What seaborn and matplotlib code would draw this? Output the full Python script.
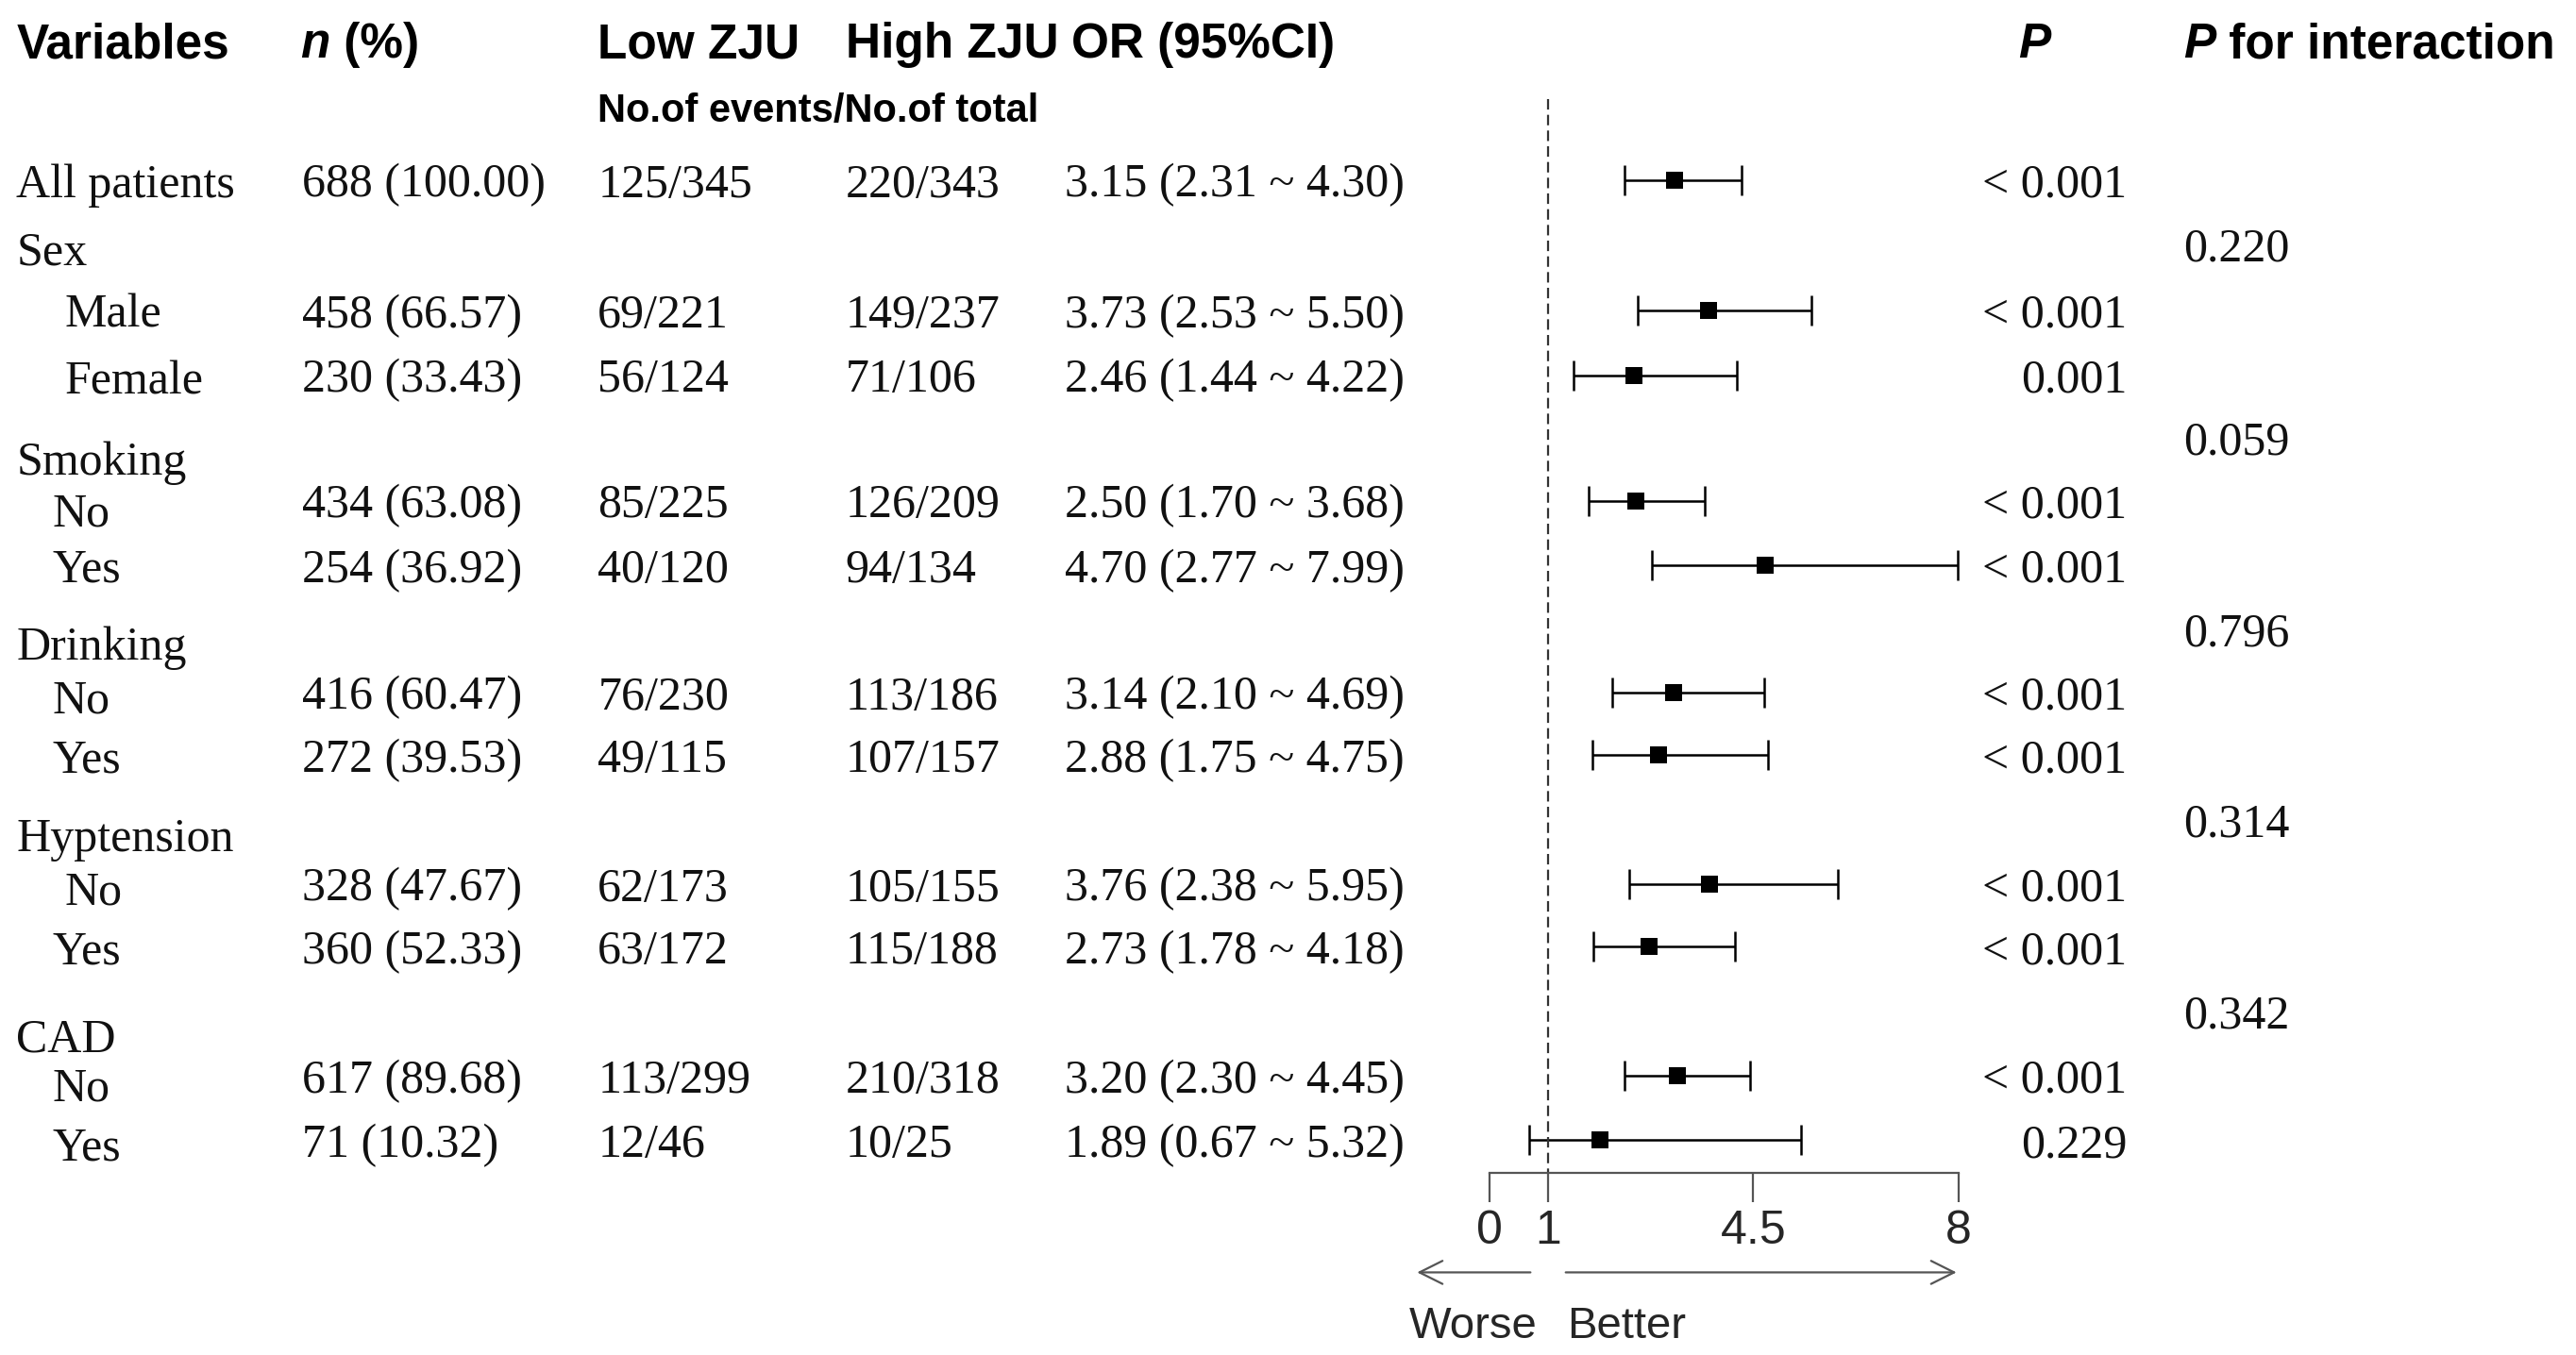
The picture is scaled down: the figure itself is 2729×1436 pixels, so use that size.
import numpy as np
import pandas as pd
import matplotlib
matplotlib.use('Agg')
import matplotlib.pyplot as plt
import seaborn as sns

# table values
labels = ['All patients', 'Male', 'Female', 'No', 'Yes', 'No', 'Yes', 'No', 'Yes', 'No', 'Yes']
n_pct = ['688 (100.00)', '458 (66.57)', '230 (33.43)', '434 (63.08)', '254 (36.92)',
         '416 (60.47)', '272 (39.53)', '328 (47.67)', '360 (52.33)', '617 (89.68)', '71 (10.32)']
low_zju = ['125/345', '69/221', '56/124', '85/225', '40/120', '76/230',
           '49/115', '62/173', '63/172', '113/299', '12/46']
high_zju = ['220/343', '149/237', '71/106', '126/209', '94/134', '113/186',
            '107/157', '105/155', '115/188', '210/318', '10/25']
odds = [3.15, 3.73, 2.46, 2.50, 4.70, 3.14, 2.88, 3.76, 2.73, 3.20, 1.89]
ci_low = [2.31, 2.53, 1.44, 1.70, 2.77, 2.10, 1.75, 2.38, 1.78, 2.30, 0.67]
ci_high = [4.30, 5.50, 4.22, 3.68, 7.99, 4.69, 4.75, 5.95, 4.18, 4.45, 5.32]
p_vals = ['< 0.001', '< 0.001', '0.001', '< 0.001', '< 0.001', '< 0.001',
          '< 0.001', '< 0.001', '< 0.001', '< 0.001', '0.229']

groups = ['Sex', 'Smoking', 'Drinking', 'Hyptension', 'CAD']
p_interaction = ['0.220', '0.059', '0.796', '0.314', '0.342']

xticks = [0, 1, 4.5, 8]
xtick_labels = ['0', '1', '4.5', '8']

# layout (page units, 1560 x 820, y down)
row_y = [109, 188, 227, 303, 342, 419, 457, 535, 573, 651, 690]
label_y = [109, 188, 228, 308, 342, 421, 457, 537, 573, 656, 692]
label_x = [10, 39, 39, 32, 32, 32, 32, 39, 32, 32, 32]
group_y = [150, 277, 389, 505, 626]
pint_y = [148, 265, 381, 496, 612]

df = pd.DataFrame({'label': labels, 'OR': odds, 'lo': ci_low, 'hi': ci_high, 'y': row_y})

sns.set_style('white')
plt.rcParams['font.family'] = ['Liberation Serif', 'DejaVu Sans']

fig = plt.figure(figsize=(13.645, 7.18), dpi=200)
ax = fig.add_axes([0, 0, 1, 1])
ax.set_xlim(0, 1560)
ax.set_ylim(820, 0)
ax.axis('off')

head = dict(family='Liberation Sans', fontweight='bold', fontsize=18.5, color='black', va='center_baseline')
body = dict(family='Liberation Serif', fontsize=18, color='#111', va='center_baseline')

# header row
ax.text(10, 24, 'Variables', **head)
t = ax.text(182, 24, 'n', fontstyle='italic', **head)
ax.annotate(' (%)', xy=(1, 0), xycoords=t, ha='left',
            **{**head, 'va': 'bottom'})
ax.text(362, 24, 'Low ZJU', **head)
ax.text(512, 24, 'High ZJU', **head)
ax.text(649, 24, 'OR (95%CI)', **head)
ax.text(1222, 24, 'P', fontstyle='italic', **head)
t = ax.text(1322, 24, 'P', fontstyle='italic', **head)
ax.annotate(' for interaction', xy=(1, 0), xycoords=t, ha='left',
            **{**head, 'va': 'bottom'})
ax.text(362, 65, 'No.of events/No.of total', **{**head, 'fontsize': 15})

# table body
for i, row in df.iterrows():
    y = row['y']
    ax.text(label_x[i], label_y[i], row['label'], **body)
    ax.text(183, y, n_pct[i], **body)
    ax.text(362, y, low_zju[i], **body)
    ax.text(512, y, high_zju[i], **body)
    ax.text(645, y, f"{row['OR']:.2f} ({row['lo']:.2f} ~ {row['hi']:.2f})", **body)
    ax.text(1288, y, p_vals[i], ha='right', **body)

for g, gy, p, py in zip(groups, group_y, p_interaction, pint_y):
    ax.text(10, gy, g, **body)
    ax.text(1322, py, p, **body)

# forest panel
fax = fig.add_axes([902 / 1560, 1 - 710 / 820, 284 / 1560, 710 / 820])
fax.patch.set_alpha(0)
fax.errorbar(df['OR'], df['y'], xerr=[df['OR'] - df['lo'], df['hi'] - df['OR']],
             fmt='none', ecolor='black', elinewidth=0.9, capsize=5.8, capthick=0.9, zorder=2)
sns.scatterplot(data=df, x='OR', y='y', marker='s', s=45, color='black',
                edgecolor='black', linewidth=0, ax=fax, zorder=3, legend=False)
fax.vlines(1, 60, 710, colors='#333', linestyles=(0, (5, 2.5)), lw=0.8, clip_on=False)
fax.set_xlim(0, 8)
fax.set_ylim(710, 0)
fax.set_xticks(xticks)
fax.set_xticklabels(xtick_labels, family='Liberation Sans', fontsize=18)
fax.set_yticks([])
fax.set_xlabel('')
fax.set_ylabel('')
for s in ['top', 'right', 'left']:
    fax.spines[s].set_visible(False)
fax.spines['bottom'].set_color('#555')
fax.spines['bottom'].set_linewidth(0.8)
fax.tick_params(axis='x', bottom=True, direction='out', length=11, width=0.8,
                color='#555', pad=3)

# direction arrows
arr = dict(arrowstyle='->', color='#555', lw=0.8, mutation_scale=22)
ax.annotate('', xy=(855, 770), xytext=(930, 770), arrowprops=arr)
ax.annotate('', xy=(1188, 770), xytext=(945, 770), arrowprops=arr)
ax.text(892, 800, 'Worse', ha='center', va='center_baseline', family='Liberation Sans', fontsize=17)
ax.text(985, 800, 'Better', ha='center', va='center_baseline', family='Liberation Sans', fontsize=17)

fig.savefig('out.png', dpi=200)
